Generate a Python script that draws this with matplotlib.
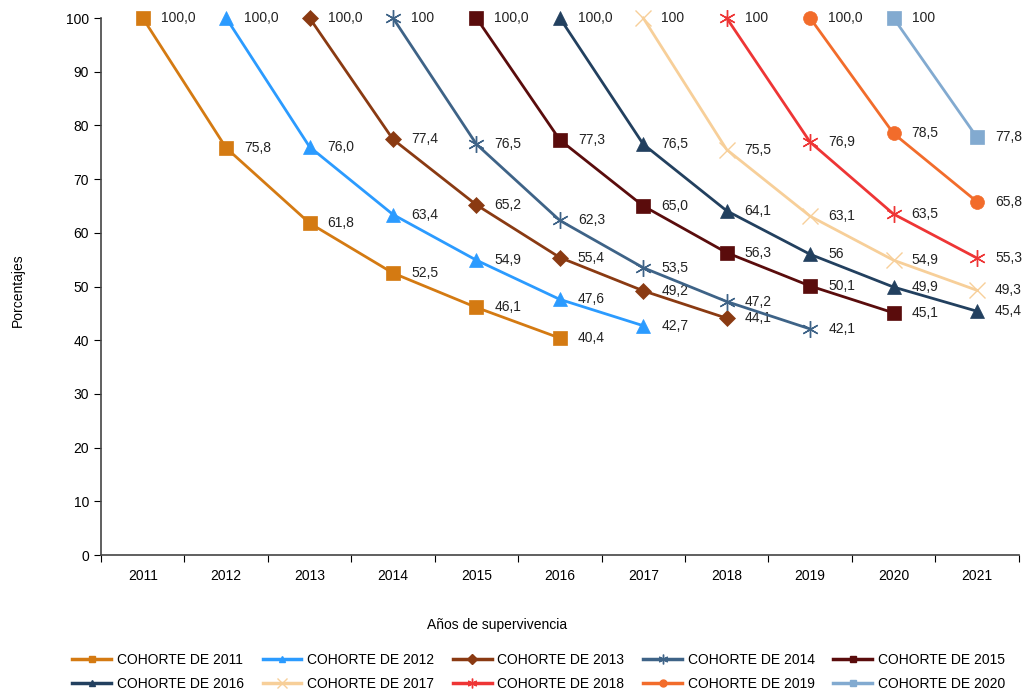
# Supervivencia por cohorte (x: años, y: porcentajes)

import numpy as np
import matplotlib.pyplot as plt
from matplotlib.lines import Line2D

plt.rcParams['font.family'] = ['Liberation Sans', 'DejaVu Sans']

# datos
years = ['2011', '2012', '2013', '2014', '2015', '2016', '2017', '2018', '2019', '2020', '2021']
cohorts = ['2011', '2012', '2013', '2014', '2015', '2016', '2017', '2018', '2019', '2020']

v2011 = [100, 75.8, 61.8, 52.5, 46.1, 40.4]
v2012 = [100, 76.0, 63.4, 54.9, 47.6, 42.7]
v2013 = [100, 77.4, 65.2, 55.4, 49.2, 44.1]
v2014 = [100, 76.5, 62.3, 53.5, 47.2, 42.1]
v2015 = [100, 77.3, 65.0, 56.3, 50.1, 45.1]
v2016 = [100, 76.5, 64.1, 56, 49.9, 45.4]
v2017 = [100, 75.5, 63.1, 54.9, 49.3]
v2018 = [100, 76.9, 63.5, 55.3]
v2019 = [100, 78.5, 65.8]
v2020 = [100, 77.8]

l2011 = ['100,0', '75,8', '61,8', '52,5', '46,1', '40,4']
l2012 = ['100,0', '76,0', '63,4', '54,9', '47,6', '42,7']
l2013 = ['100,0', '77,4', '65,2', '55,4', '49,2', '44,1']
l2014 = ['100', '76,5', '62,3', '53,5', '47,2', '42,1']
l2015 = ['100,0', '77,3', '65,0', '56,3', '50,1', '45,1']
l2016 = ['100,0', '76,5', '64,1', '56', '49,9', '45,4']
l2017 = ['100', '75,5', '63,1', '54,9', '49,3']
l2018 = ['100', '76,9', '63,5', '55,3']
l2019 = ['100,0', '78,5', '65,8']
l2020 = ['100', '77,8']

values = [v2011, v2012, v2013, v2014, v2015, v2016, v2017, v2018, v2019, v2020]
labels = [l2011, l2012, l2013, l2014, l2015, l2016, l2017, l2018, l2019, l2020]

colors = ['#D47A12', '#2B9BFF', '#8A3A12', '#3E6387', '#5A0C0C',
          '#22405F', '#F7CF99', '#EE3535', '#F26C2B', '#82AAD0']
asterisk = (6, 2, 0)
markers = ['s', '^', 'D', asterisk, 's', '^', 'x', asterisk, 'o', 's']
msizes = [10, 10, 8, 12, 10, 10, 12, 12, 10, 10]

fig = plt.figure(figsize=(10.31, 6.95), dpi=100)
ax = fig.add_axes([0.098, 0.2014, 0.89, 0.7727])

handles = []
for i, (vals, labs) in enumerate(zip(values, labels)):
    x = np.arange(len(vals)) + i
    mew = 1.0 if markers[i] in ('x', asterisk) else 0.5
    ax.plot(x, vals, color=colors[i], lw=2, marker=markers[i], ms=msizes[i],
            mec=colors[i], mfc=colors[i], mew=mew, clip_on=False, zorder=3)
    for xi, yi, t in zip(x, vals, labs):
        ax.annotate(t, (xi, yi), xytext=(13, 0), textcoords='offset points',
                    va='center', ha='left', fontsize=10, color='#222222')
    handles.append(Line2D([], [], color=colors[i], lw=2.5, marker=markers[i],
                          ms=5 if markers[i] not in ('x', asterisk) else 7,
                          mec=colors[i], mfc=colors[i], mew=1))

ax.set_xlim(-0.5, 10.5)
ax.set_ylim(0, 100)
ax.set_yticks(range(0, 101, 10))
ax.set_xticks(np.arange(-0.5, 11, 1))
ax.set_xticklabels([])
ax.set_xticks(np.arange(11), minor=True)
ax.set_xticklabels(years, minor=True)
ax.tick_params(axis='x', which='minor', length=0, pad=10)
ax.tick_params(axis='both', which='major', length=5, labelsize=10)
ax.tick_params(axis='x', which='minor', labelsize=10)
ax.spines['top'].set_visible(False)
ax.spines['right'].set_visible(False)
for s in ('left', 'bottom'):
    ax.spines[s].set_color('#444444')
    ax.spines[s].set_linewidth(1.2)

fig.text(0.482, 0.1, 'Años de supervivencia', ha='center', va='center', fontsize=10)
fig.text(0.017, 0.583, 'Porcentajes', ha='center', va='center', rotation=90, fontsize=10)

# orden por filas
order = [0, 5, 1, 6, 2, 7, 3, 8, 4, 9]
fig.legend([handles[k] for k in order], ['COHORTE DE ' + cohorts[k] for k in order],
           ncol=5, loc='center', bbox_to_anchor=(0.5225, 0.033), frameon=False,
           fontsize=10, handlelength=2.8, columnspacing=1.35, handletextpad=0.4,
           labelspacing=0.75)

plt.savefig('out.png', dpi=100)
plt.close()
